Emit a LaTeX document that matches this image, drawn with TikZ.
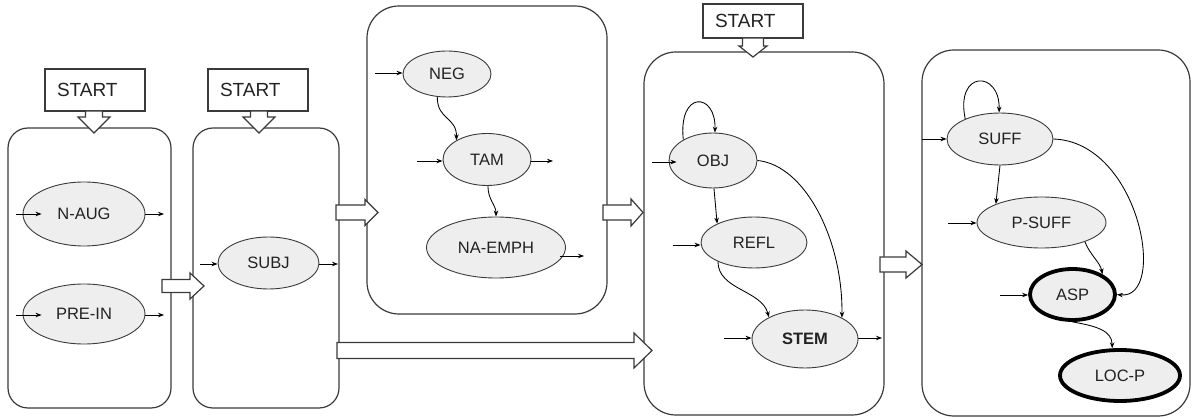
\documentclass[tikz,border=0pt]{standalone}
\usepackage{fontspec}
\setmainfont{Liberation Sans}
\usetikzlibrary{arrows.meta,shapes.geometric}
\definecolor{stfill}{HTML}{EEEEEE}
\definecolor{edgecol}{HTML}{3A3A3A}
\definecolor{txt}{HTML}{222222}
\tikzset{
  panel/.style={rectangle, draw=edgecol, line width=1.2pt, rounded corners=#1, inner sep=0pt},
  panel/.default=20pt,
  state/.style={ellipse, draw=edgecol, line width=0.9pt, fill=stfill, inner sep=0pt, text=txt, font=\fontsize{16.5}{18}\selectfont},
  final/.style={state, draw=black, line width=3.8pt},
  startbox/.style={rectangle, draw=edgecol, line width=1.2pt, inner xsep=0pt, inner ysep=0pt, text=txt, font=\fontsize{19}{22}\selectfont, align=left},
  arr/.style={-{Stealth[length=6pt,width=4.5pt]}, line width=0.85pt, draw=black},
  blk/.style={draw=edgecol, line width=1.2pt, fill=white, line join=miter},
}
\newcommand\myrarrow[6]{\draw[blk] (#1,{#3-#4}) -- ({#2-#6},{#3-#4}) -- ({#2-#6},{#3-#5}) -- (#2,#3) -- ({#2-#6},{#3+#5}) -- ({#2-#6},{#3+#4}) -- (#1,{#3+#4}) -- cycle;}
\newcommand\mydarrow[6]{\draw[blk] ({#1-#4},#2) -- ({#1-#4},{#3-#6}) -- ({#1-#5},{#3-#6}) -- (#1,#3) -- ({#1+#5},{#3-#6}) -- ({#1+#4},{#3-#6}) -- ({#1+#4},#2) -- cycle;}
\begin{document}
\begin{tikzpicture}[x=1pt,y=-1pt]
\useasboundingbox (0,0) rectangle (1192,419);

% panels
\node[panel=20pt, minimum width=163pt, minimum height=280pt] (b1) at (89.5,268) {};
\node[panel=20pt, minimum width=146pt, minimum height=280pt] (b2) at (266,268) {};
\node[panel=32pt, minimum width=240pt, minimum height=308pt] (b3) at (487,160) {};
\node[panel=32pt, minimum width=240pt, minimum height=363pt] (b4) at (764,233.5) {};
\node[panel=32pt, minimum width=268pt, minimum height=366pt] (b5) at (1056,233) {};

% start boxes
\node[startbox, minimum width=100pt, minimum height=42pt, text width=76pt] (st1) at (95,90) {START};
\node[startbox, minimum width=100pt, minimum height=42pt, text width=76pt] (st2) at (258,90) {START};
\node[startbox, minimum width=100pt, minimum height=34pt, text width=76pt] (st3) at (753,21) {START};

% start arrows
\mydarrow{94}{111}{133}{8.5}{16}{16}
\mydarrow{259}{111}{133}{8.5}{16}{16}
\mydarrow{753}{38}{57}{10.5}{14}{11}

% block arrows between panels
\myrarrow{162}{204}{286}{6.5}{13}{14}
\myrarrow{336}{378}{212.5}{7.5}{13}{13}
\myrarrow{603}{643}{212.5}{7.5}{13.5}{12}
\myrarrow{337}{652}{350.5}{8}{17.5}{18}
\myrarrow{880}{922}{264.5}{7.5}{13.5}{16}

% states
\node[state, minimum width=122pt, minimum height=64pt] (naug) at (84,214) {N-AUG};
\node[state, minimum width=122pt, minimum height=60pt] (prein) at (84,314) {PRE-IN};
\node[state, minimum width=101pt, minimum height=52pt] (subj) at (268.5,263) {SUBJ};
\node[state, minimum width=88pt, minimum height=46pt] (neg) at (447,74) {NEG};
\node[state, minimum width=88pt, minimum height=52pt] (tam) at (487,159.5) {TAM};
\node[state, minimum width=139pt, minimum height=61pt] (naemph) at (496,247.5) {NA-EMPH};
\node[state, minimum width=88pt, minimum height=55pt] (obj) at (713,160.5) {OBJ};
\node[state, minimum width=106pt, minimum height=51pt] (refl) at (754,242.5) {REFL};
\node[state, minimum width=106pt, minimum height=58pt, font=\fontsize{16.5}{18}\selectfont\bfseries] (stem) at (805,339) {STEM};
\node[state, minimum width=106pt, minimum height=52pt] (suff) at (1000,139) {SUFF};
\node[state, minimum width=129pt, minimum height=51pt] (psuff) at (1041.5,222.5) {P-SUFF};
\node[final, minimum width=85pt, minimum height=51pt] (asp) at (1072.5,294.5) {ASP};
\node[final, minimum width=120pt, minimum height=51pt] (locp) at (1120,375.5) {LOC-P};

% free ends
\coordinate (naug-in) at (16,214);
\coordinate (naug-out) at (164,214);
\coordinate (prein-in) at (16,315);
\coordinate (prein-out) at (164,315);
\coordinate (subj-in) at (200,264);
\coordinate (subj-out) at (338,264);
\coordinate (neg-in) at (375,73);
\coordinate (tam-in) at (417,161);
\coordinate (tam-out) at (553,161);
\coordinate (naemph-out) at (584,256);
\coordinate (obj-in) at (652,162);
\coordinate (refl-in) at (673,245);
\coordinate (stem-in) at (724,338);
\coordinate (stem-out) at (882,338);
\coordinate (suff-in) at (922,139);
\coordinate (psuff-in) at (948,223);
\coordinate (asp-in) at (1000,295);

% input / output arrows
\draw[arr, shorten >=-19pt] (naug-in) -- (naug.west);
\draw[arr] (naug.east) -- (naug-out);
\draw[arr, shorten >=-19pt] (prein-in) -- (prein.west |- prein-in);
\draw[arr] (prein.east |- prein-out) -- (prein-out);
\draw[arr] (subj-in) -- (subj.west |- subj-in);
\draw[arr] (subj.east |- subj-out) -- (subj-out);
\draw[arr] (neg-in) -- (neg.west |- neg-in);
\draw[arr] (tam-in) -- (tam.west |- tam-in);
\draw[arr] (tam.east |- tam-out) -- (tam-out);
\draw[arr] ([xshift=-6pt]naemph.east |- naemph-out) -- (naemph-out);
\draw[arr, shorten >=-8pt] (obj-in) -- (obj.west |- obj-in);
\draw[arr] (refl-in) -- (refl.west |- refl-in);
\draw[arr] (stem-in) -- (stem.west |- stem-in);
\draw[arr] (stem.east |- stem-out) -- (stem-out);
\draw[arr] (suff-in) -- (suff.west);
\draw[arr] (psuff-in) -- (psuff.west |- psuff-in);
\draw[arr] (asp-in) -- (asp.west |- asp-in);

% transitions
\draw[arr] (neg.247) .. controls (437,120) and (457,117) .. (tam.148);
\draw[arr] (tam.272) .. controls (488,200) and (496,205) .. (naemph.north);
\draw[arr] (obj.145) .. controls (678,90) and (716,92) .. (obj.86);
\draw[arr] (obj.272) -- (refl.153);
\draw[arr] (obj.east) .. controls (805,165) and (843,240) .. (stem.30);
\draw[arr] (refl.208) .. controls (718,290) and (762,290) .. (stem.149);
\draw[arr] (suff.150) .. controls (955,70) and (1000,70) .. (suff.92);
\draw[arr] (suff.south) -- (psuff.158);
\draw[arr] (suff.east) .. controls (1140,142) and (1168,300) .. (asp.east);
\draw[arr] (psuff.336) .. controls (1090,255) and (1100,262) .. (asp.34);
\draw[arr] (asp.south) .. controls (1095,326) and (1112,330) .. (locp.106);
\end{tikzpicture}
\end{document}
